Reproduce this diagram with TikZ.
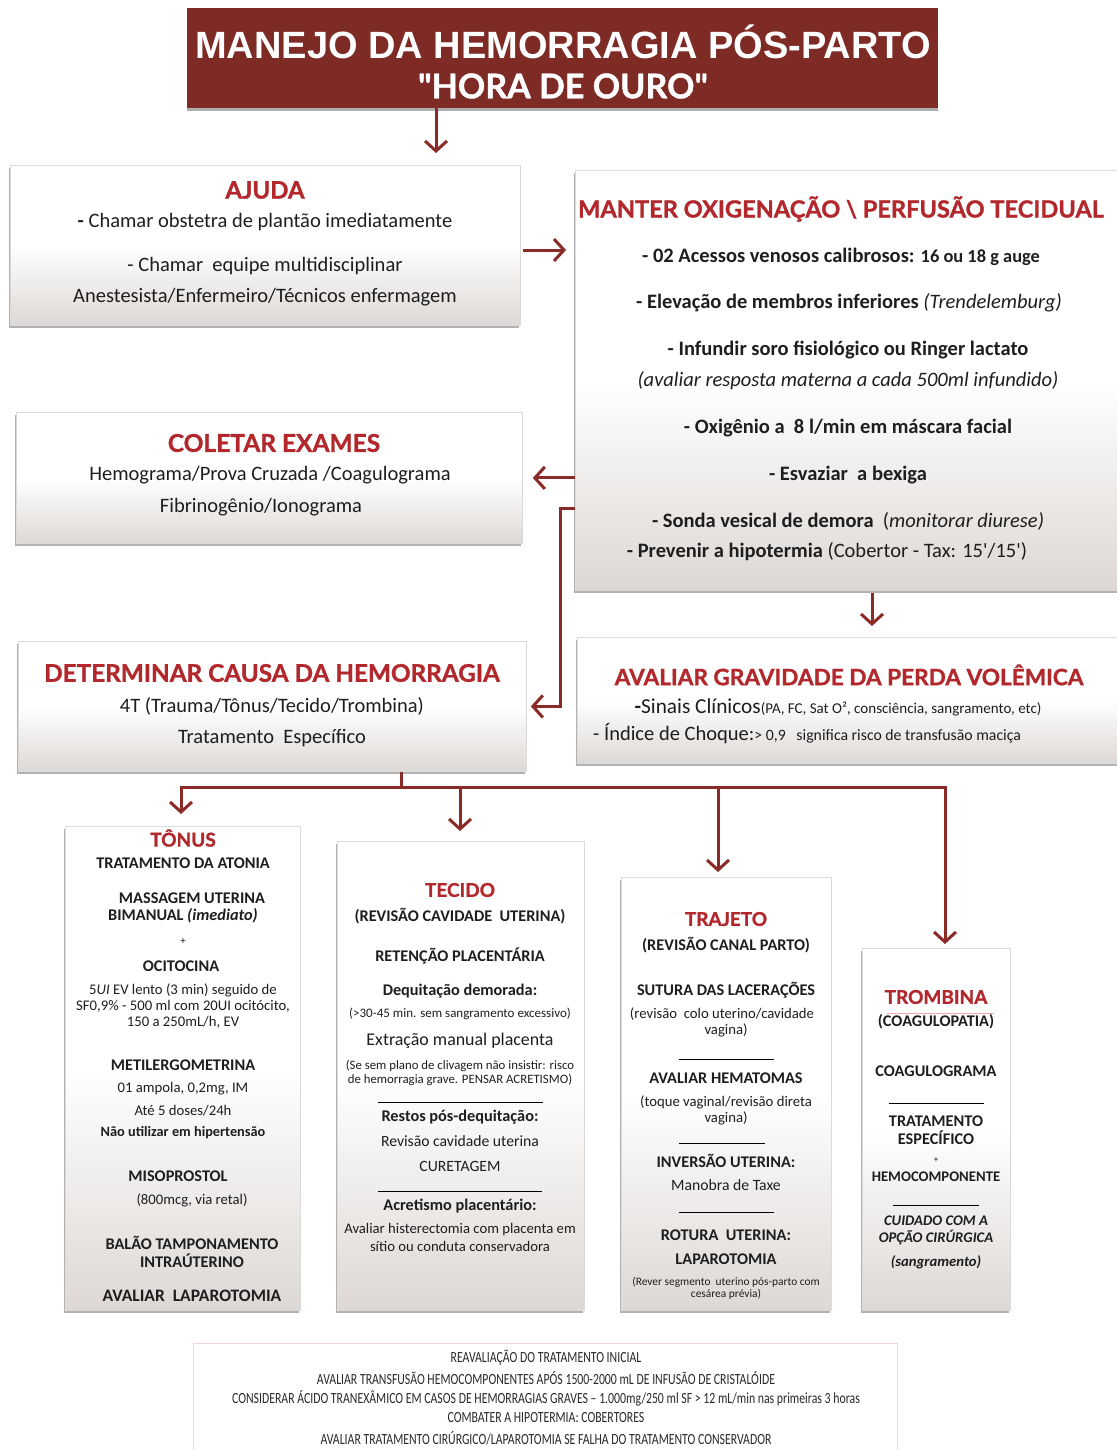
\documentclass[tikz,border=0pt]{standalone}
\usepackage{fontspec}
\setmainfont{Carlito}
\newfontfamily\titlefont{Liberation Sans}
\newfontfamily\headfont[BoldFeatures={FakeBold=1.2}]{Lato}
\newfontfamily\condfont[FakeStretch=0.76]{Carlito}
\usetikzlibrary{arrows.meta,shadows,calc}
\definecolor{titlered}{HTML}{7E2A25}
\definecolor{hdred}{HTML}{B2282C}
\definecolor{arrred}{HTML}{8A2B28}
\definecolor{boxgray}{HTML}{DDD8D5}
\definecolor{txtc}{HTML}{1E1E1E}
\definecolor{footline}{HTML}{EED6D2}
\newcommand{\fs}[1]{\fontsize{#1}{#1}\selectfont}
\tikzset{
  box/.style={anchor=north west, inner sep=0pt, draw=black!14, line width=0.8pt,
     top color=white, bottom color=boxgray, middle color=white,
     drop shadow={shadow xshift=-1.5pt, shadow yshift=-3pt, opacity=0.4, fill=black!75}},
  hd/.style={font=\headfont\bfseries\fs{24}, text=hdred, inner sep=0pt},
  shd/.style={font=\headfont\bfseries\fs{19}, text=hdred, inner sep=0pt},
  txt/.style={font=\fs{20.5}, text=txtc, inner sep=0pt},
  btxt/.style={font=\bfseries\fs{20.5}, text=txtc, inner sep=0pt},
  sb/.style={font=\bfseries\fs{16.3}, text=txtc, inner sep=0pt},
  sr/.style={font=\fs{14.7}, text=txtc, inner sep=0pt},
  arr/.style={draw=arrred, line width=3pt, -{Straight Barb[length=10pt,width=22pt]}},
  tline/.style={draw=arrred, line width=3pt},
  sep/.style={draw=black, line width=0.6pt},
  foot/.style={font=\condfont\fs{15.5}, text=txtc!95, inner sep=0pt},
}
\begin{document}
\begin{tikzpicture}[x=1pt,y=-1pt]
\useasboundingbox (0,0) rectangle (1116,1450);
\fill[white] (0,0) rectangle (1116,1450);

% title
\node[anchor=north west, fill=titlered, minimum width=751pt, minimum height=100pt, inner sep=0pt,
  drop shadow={shadow xshift=0pt, shadow yshift=-3pt, opacity=0.45, fill=black!70}] (title) at (187,8) {};
\node[font=\titlefont\bfseries\fs{38}, text=white, inner sep=0pt] (title1) at (563,42) {MANEJO DA HEMORRAGIA PÓS-PARTO};
\node[font=\headfont\bfseries\fs{34}, text=white, inner sep=0pt] (title2) at (563,86) {"HORA DE OURO"};

% boxes
\node[box, minimum width=510pt, minimum height=160pt] (ajuda) at (10,165) {};
\node[box, minimum width=560pt, minimum height=420pt] (manter) at (575,170) {};
\node[box, minimum width=506pt, minimum height=131pt] (coletar) at (16,412) {};
\node[box, minimum width=508pt, minimum height=130pt] (determ) at (18,641) {};
\node[box, minimum width=560pt, minimum height=126pt] (avaliar) at (577,637) {};
\node[box, minimum width=235pt, minimum height=484pt] (tonus) at (65,826) {};
\node[box, minimum width=247pt, minimum height=469pt] (tecido) at (337,841) {};
\node[box, minimum width=210pt, minimum height=433pt] (trajeto) at (621,877) {};
\node[box, minimum width=148pt, minimum height=362pt] (trombina) at (862,948) {};
\node[anchor=north west, draw=footline, line width=0.8pt, fill=white, minimum width=704pt, minimum height=110pt, inner sep=0pt] (footer) at (193,1343) {};

% AJUDA
\node[hd] (aj0) at (265,190) {AJUDA};
\node[txt] (aj1) at (265,222) {\textbf{-} Chamar obstetra de plantão imediatamente};
\node[txt] (aj2) at (265,266) {- Chamar\ \ equipe multidisciplinar};
\node[txt] (aj3) at (265,297) {Anestesista/Enfermeiro/Técnicos enfermagem};

% MANTER
\node[hd, font=\headfont\bfseries\fs{23.6}] (m0) at (841,209) {MANTER OXIGENAÇÃO \textbackslash\ PERFUSÃO TECIDUAL};
\node[btxt] (m1) at (841,257) {- 02 Acessos venosos calibrosos: {\fs{18.4}16 ou 18 g auge}};
\node[btxt] (m2) at (849,303) {- Elevação de membros inferiores \textmd{\itshape (Trendelemburg)}};
\node[btxt] (m3) at (848,350) {- Infundir soro fisiológico ou Ringer lactato};
\node[txt, font=\itshape\fs{20.5}] (m4) at (848,381) {(avaliar resposta materna a cada 500ml infundido)};
\node[btxt] (m5) at (848,428) {- Oxigênio a\ \ 8 l/min em máscara facial};
\node[btxt] (m6) at (848,475) {- Esvaziar\ \ a bexiga};
\node[btxt] (m7) at (848,521) {- Sonda vesical de demora\ \ \textmd{(\itshape monitorar diurese)}};
\node[btxt] (m8) at (827,552) {- Prevenir a hipotermia \textmd{(Cobertor - Tax: 15\textquotesingle/15\textquotesingle)}};

% COLETAR
\node[hd, font=\headfont\bfseries\fs{24.5}] (c0) at (274,443) {COLETAR EXAMES};
\node[txt] (c1) at (270,475) {Hemograma/Prova Cruzada /Coagulograma};
\node[txt] (c2) at (261,507) {Fibrinogênio/Ionograma};

% DETERMINAR
\node[hd, font=\headfont\bfseries\fs{24.3}] (d0) at (272,673) {DETERMINAR CAUSA DA HEMORRAGIA};
\node[txt] (d1) at (272,706) {4T (Trauma/Tônus/Tecido/Trombina)};
\node[txt] (d2) at (272,738) {Tratamento\ \ Específico};

% AVALIAR
\node[hd, font=\headfont\bfseries\fs{22.6}] (a0) at (849,675) {AVALIAR GRAVIDADE DA PERDA VOLÊMICA};
\node[txt, font=\fs{21.3}] (a1) at (838,707) {\textbf{-}Sinais Clínicos{\fs{15}(PA, FC, Sat O², consciência, sangramento, etc)}};
\node[txt, anchor=west, font=\fs{20.5}] (a2) at (593,734) {- Índice de Choque:{\fs{15.8}> 0,9\ \ \ significa risco de transfusão maciça}};

% TONUS
\node[shd] (to0) at (183,838) {TÔNUS};
\node[sb] (to1) at (183,863) {TRATAMENTO DA ATONIA};
\node[sb] (to2) at (192,898) {MASSAGEM UTERINA};
\node[sb] (to3) at (183,916) {BIMANUAL \textit{(imediato)}};
\node[sr, font=\fs{11}] (to4) at (183,941) {+};
\node[sb] (to5) at (181,966) {OCITOCINA};
\node[sr] (to6) at (183,990) {5\textit{UI} EV lento (3 min) seguido de};
\node[sr] (to7) at (183,1006) {SF0,9\% - 500 ml com 20UI ocitócito,};
\node[sr] (to8) at (183,1022) {150 a 250mL/h, EV};
\node[sb] (to9) at (183,1065) {METILERGOMETRINA};
\node[sr] (to10) at (183,1089) {01 ampola, 0,2mg, IM};
\node[sr] (to11) at (183,1111) {Até 5 doses/24h};
\node[sb, font=\bfseries\fs{14.3}] (to12) at (183,1133) {Não utilizar em hipertensão};
\node[sb] (to13) at (178,1176) {MISOPROSTOL};
\node[sr] (to14) at (192,1200) {(800mcg, via retal)};
\node[sb] (to15) at (192,1243) {BALÃO TAMPONAMENTO};
\node[sb] (to16) at (192,1261) {INTRAÚTERINO};
\node[sb, font=\bfseries\fs{17.5}] (to17) at (192,1296) {AVALIAR\ \ LAPAROTOMIA};

% TECIDO
\node[shd] (te0) at (460,890) {TECIDO};
\node[sb] (te1) at (460,916) {(REVISÃO CAVIDADE\ \ UTERINA)};
\node[sb] (te2) at (460,956) {RETENÇÃO PLACENTÁRIA};
\node[sb] (te3) at (460,991) {Dequitação demorada:};
\node[sr, font=\fs{13}] (te4) at (460,1014) {(>30-45 min. sem sangramento excessivo)};
\node[sr, font=\fs{17.9}] (te5) at (460,1041) {Extração manual placenta};
\node[sr, font=\fs{12.8}] (te6) at (460,1066) {(Se sem plano de clivagem não insistir: risco};
\node[sr, font=\fs{12.8}] (te7) at (460,1080) {de hemorragia grave. PENSAR ACRETISMO)};
\coordinate (te8a) at (378,1102); \coordinate (te8b) at (543,1102);
\draw[sep] (te8a) -- (te8b);
\node[sb] (te9) at (460,1117) {Restos pós-dequitação:};
\node[sr, font=\fs{15.7}] (te10) at (460,1141) {Revisão cavidade uterina};
\node[sr, font=\fs{15.7}] (te11) at (460,1166) {CURETAGEM};
\coordinate (te12a) at (378,1191); \coordinate (te12b) at (542,1191);
\draw[sep] (te12a) -- (te12b);
\node[sb] (te13) at (460,1206) {Acretismo placentário:};
\node[sr] (te14) at (460,1230) {Avaliar histerectomia com placenta em};
\node[sr] (te15) at (460,1246) {sítio ou conduta conservadora};

% TRAJETO
\node[shd] (tr0) at (726,919) {TRAJETO};
\node[sb] (tr1) at (726,945) {(REVISÃO CANAL PARTO)};
\node[sb] (tr2) at (726,990) {SUTURA DAS LACERAÇÕES};
\node[sr] (tr3) at (722,1014) {(revisão\ \ colo uterino/cavidade};
\node[sr] (tr4) at (726,1030) {vagina)};
\coordinate (tr5a) at (679,1059); \coordinate (tr5b) at (774,1059);
\draw[sep] (tr5a) -- (tr5b);
\node[sb] (tr6) at (726,1078) {AVALIAR HEMATOMAS};
\node[sr] (tr7) at (726,1102) {(toque vaginal/revisão direta};
\node[sr] (tr8) at (726,1118) {vagina)};
\coordinate (tr9a) at (679,1143); \coordinate (tr9b) at (765,1143);
\draw[sep] (tr9a) -- (tr9b);
\node[sb] (tr10) at (726,1161) {INVERSÃO UTERINA:};
\node[sr, font=\fs{15.7}] (tr11) at (726,1185) {Manobra de Taxe};
\coordinate (tr12a) at (679,1212); \coordinate (tr12b) at (774,1212);
\draw[sep] (tr12a) -- (tr12b);
\node[sb] (tr13) at (726,1235) {ROTURA\ \ UTERINA:};
\node[sb] (tr14) at (726,1259) {LAPAROTOMIA};
\node[sr, font=\fs{11.4}] (tr15) at (726,1282) {(Rever segmento\ \ uterino pós-parto com};
\node[sr, font=\fs{11.4}] (tr16) at (726,1294) {cesárea prévia)};

% TROMBINA
\node[shd] (tb0) at (936,997) {TROMBINA};
\coordinate (tb1a) at (887,1013); \coordinate (tb1b) at (994,1013);
\draw[draw=footline!80!red, line width=0.8pt] (tb1a) -- (tb1b);
\node[sb] (tb2) at (936,1022) {(COAGULOPATIA)};
\node[sb] (tb3) at (936,1071) {COAGULOGRAMA};
\coordinate (tb4a) at (889,1103); \coordinate (tb4b) at (984,1103);
\draw[sep] (tb4a) -- (tb4b);
\node[sb] (tb5) at (936,1121) {TRATAMENTO};
\node[sb] (tb6) at (936,1138) {ESPECÍFICO};
\node[sr, font=\fs{9}] (tb7) at (936,1160) {+};
\node[sb, font=\bfseries\fs{14.7}] (tb8) at (936,1177) {HEMOCOMPONENTE};
\coordinate (tb9a) at (893,1205); \coordinate (tb9b) at (979,1205);
\draw[sep] (tb9a) -- (tb9b);
\node[sb, font=\bfseries\itshape\fs{14.7}] (tb10) at (936,1221) {CUIDADO COM A};
\node[sb, font=\bfseries\itshape\fs{14.7}] (tb11) at (936,1238) {OPÇÃO CIRÚRGICA};
\node[sb, font=\bfseries\itshape\fs{14.7}] (tb12) at (936,1262) {(sangramento)};

% footer
\node[foot] (f1) at (546,1358) {REAVALIAÇÃO DO TRATAMENTO INICIAL};
\node[foot] (f2) at (546,1378) {AVALIAR TRANSFUSÃO HEMOCOMPONENTES APÓS 1500-2000 mL DE INFUSÃO DE CRISTALÓIDE};
\node[foot] (f3) at (546,1398) {CONSIDERAR ÁCIDO TRANEXÂMICO EM CASOS DE HEMORRAGIAS GRAVES – 1.000mg/250 ml SF > 12 mL/min nas primeiras 3 horas};
\node[foot] (f4) at (546,1418) {COMBATER A HIPOTERMIA: COBERTORES};
\node[foot] (f5) at (546,1438) {AVALIAR TRATAMENTO CIRÚRGICO/LAPAROTOMIA SE FALHA DO TRATAMENTO CONSERVADOR};

% connectors
\coordinate (ax1) at (436,0);
\draw[arr, shorten >=12pt] (title.south -| ax1) -- (ajuda.north -| ax1);
\coordinate (ay1) at (0,250);
\draw[arr, shorten <=2pt, shorten >=9pt] (ajuda.east |- ay1) -- (manter.west |- ay1);
\draw[arr, shorten >=10pt] (manter.west |- coletar.east) -- (coletar.east);
\coordinate (b1) at (560,508);
\draw[arr, shorten >=4pt] (manter.west |- b1) -- (b1) |- (determ.east);
\coordinate (ax2) at (872,0);
\draw[arr, shorten <=2pt, shorten >=11pt] (manter.south -| ax2) -- (avaliar.north -| ax2);
% tree
\coordinate (st) at (401,787);
\coordinate (tl) at (181,787);
\coordinate (tc) at (460,787);
\coordinate (tj) at (718,787);
\coordinate (tt) at (945,787);
\draw[tline] (determ.south -| st) -- (st);
\draw[tline] ([xshift=-1.5pt]tl) -- ([xshift=1.5pt]tt);
\draw[arr, shorten >=12pt] (tl) -- (tonus.north -| tl);
\draw[arr, shorten >=10pt] (tc) -- (tecido.north -| tc);
\draw[arr, shorten >=5pt] (tj) -- (trajeto.north -| tj);
\draw[arr, shorten >=4pt] (tt) -- (trombina.north -| tt);
\end{tikzpicture}
\end{document}
